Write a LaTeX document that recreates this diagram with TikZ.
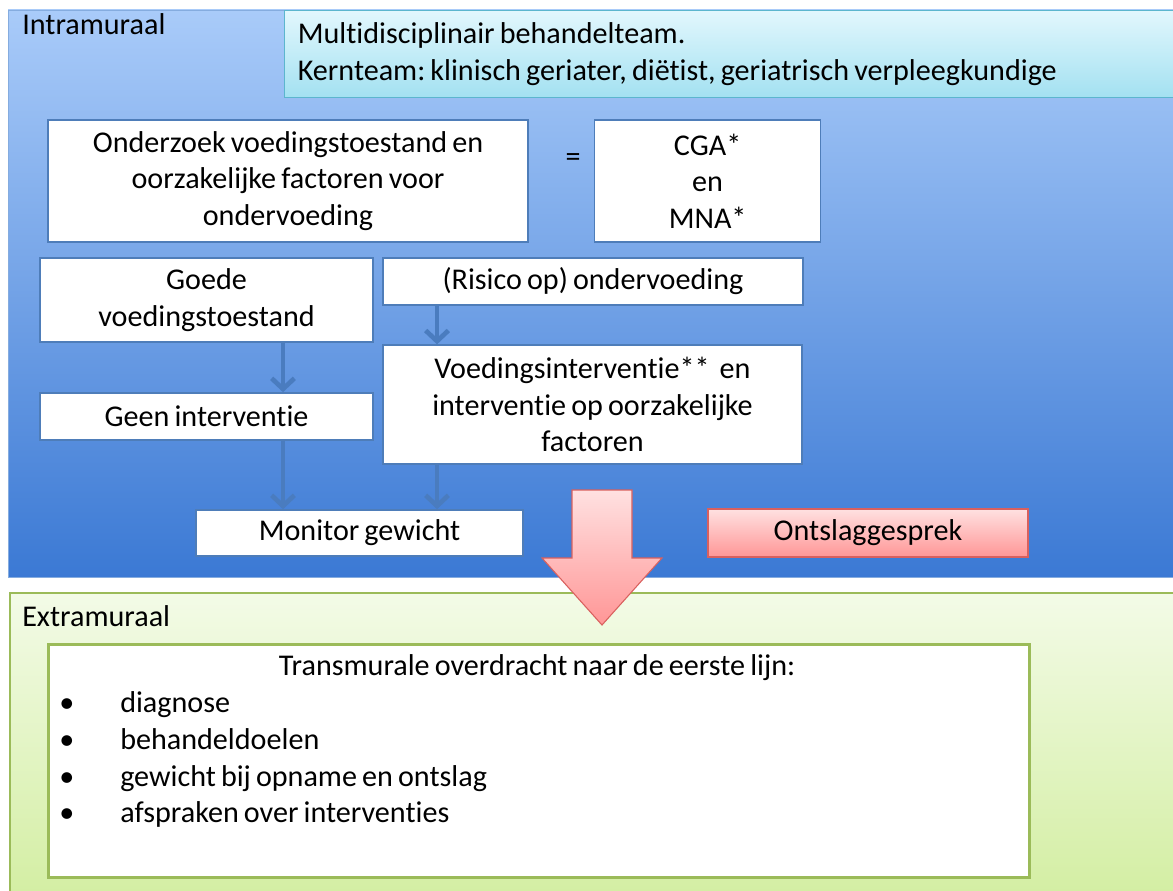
\documentclass[tikz,border=0pt]{standalone}
\usepackage{fontspec}
\setmainfont{Carlito}[Ligatures=NoCommon,WordSpace=0.75]
\frenchspacing
\usetikzlibrary{arrows.meta,positioning}

\definecolor{intraboven}{HTML}{A9CBF9}
\definecolor{intraonder}{HTML}{3B79D4}
\definecolor{kaderblauw}{HTML}{4E7DB9}
\definecolor{pijlblauw}{HTML}{4A7CBF}
\definecolor{teamboven}{HTML}{E2F7FD}
\definecolor{teamonder}{HTML}{A3E1F1}
\definecolor{teamrand}{HTML}{5CB6CE}
\definecolor{roseboven}{HTML}{FFE1E1}
\definecolor{roseonder}{HTML}{FF9696}
\definecolor{roserand}{HTML}{D9605E}
\definecolor{extraboven}{HTML}{F3FBE7}
\definecolor{extraonder}{HTML}{D3EEA2}
\definecolor{extrarand}{HTML}{9BBB59}

\begin{document}
\begin{tikzpicture}[x=0.75pt,y=-0.75pt,font=\fontsize{22.6}{27.4}\selectfont]
       \tikzstyle{stap}=[draw=kaderblauw,line width=1.2pt,fill=white,align=center,inner sep=2pt]
       \tikzstyle{pijl}=[draw=pijlblauw,line width=3.5pt,-{Straight Barb[length=8pt,width=17pt]}]
       \tikzstyle{kop}=[anchor=west,inner sep=0pt]
       \tikzstyle{regel}=[anchor=base west,inner sep=0pt]

       \useasboundingbox (0,0) rectangle (1173,891);
       \clip (0,0) rectangle (1173,891);
       \fill[white] (0,0) rectangle (1173,891);

       % intramuraal / extramuraal
       \path[top color=intraboven,bottom color=intraonder,draw=intraboven!60!kaderblauw] (8,10) rectangle (1185,577);
       \path[top color=extraboven,bottom color=extraonder,draw=extrarand,line width=1.2pt] (10,593) rectangle (1185,900);
       \node[kop] (intra) at (22,24) {Intramuraal};
       \node[kop] (extra) at (22,616) {Extramuraal};

       \node[draw=teamrand,line width=1pt,top color=teamboven,bottom color=teamonder,anchor=north west,
             minimum width=675.75pt,minimum height=65.25pt,text width=656pt,inner xsep=9.75pt,align=flush left]
             (team) at (284,10) {Multidisciplinair behandelteam.\\Kernteam: klinisch geriater, diëtist, geriatrisch verpleegkundige};

       \node[stap,minimum width=360pt,minimum height=91.5pt] (onderzoek) at (288,181)
             {Onderzoek voedingstoestand en\\oorzakelijke factoren voor\\ondervoeding};
       \node[stap,minimum width=169.5pt,minimum height=91.5pt,right=48.75pt of onderzoek] (cga) {CGA*\\en\\MNA*};
       \node (gelijk) at (573,160) {=};

       \node[stap,minimum width=250pt,minimum height=63pt] (goede) at (206.5,300) {Goede\\voedingstoestand};
       \node[stap,minimum width=315pt,minimum height=35.25pt] (risico) at (593,281.5) {(Risico op) ondervoeding};
       \node[stap,minimum width=314pt,minimum height=89pt] (interventie) at (592.5,404.5)
             {Voedingsinterventie**~ en\\interventie op oorzakelijke\\factoren};
       \node[stap,minimum width=250pt,minimum height=35.25pt] (geen) at (206.5,416.5) {Geen interventie};
       \node[stap,minimum width=245pt,minimum height=34.5pt] (monitor) at (359.5,533) {Monitor gewicht};

       \coordinate (links) at (283,0);
       \coordinate (rechts) at (437,0);
       \draw[pijl] (goede.south -| links) -- (geen.north -| links);
       \draw[pijl] (geen.south -| links) -- (monitor.north -| links);
       \draw[pijl] (risico.south -| rechts) -- (interventie.north -| rechts);
       \draw[pijl] (interventie.south -| rechts) -- (monitor.north -| rechts);

       % ontslag
       \path[top color=roseboven,bottom color=roseonder,draw=roserand,line width=0.8pt]
             (572,490) -- (632,490) -- (632,558) -- (662,558) -- (602,625) -- (542,558) -- (572,558) -- cycle;
       \node[stap,draw=roserand,top color=roseboven,bottom color=roseonder,minimum width=240pt,minimum height=36pt]
             (ontslag) at (868,533) {Ontslaggesprek};

       \node[draw=extrarand,line width=2pt,fill=white,minimum width=735.75pt,minimum height=174.75pt,anchor=north west]
             (overdracht) at (47,643) {};
       \node (titel) at (537,668) {Transmurale overdracht naar de eerste lijn:};
       \foreach \tekst [count=\i] in {diagnose,behandeldoelen,gewicht bij opname en ontslag,afspraken over interventies}{
         \node[regel] (bol\i) at (59,676+36.7*\i) {•};
         \node[regel] (punt\i) at (120,676+36.7*\i) {\tekst};
       }
     \end{tikzpicture}
\end{document}
